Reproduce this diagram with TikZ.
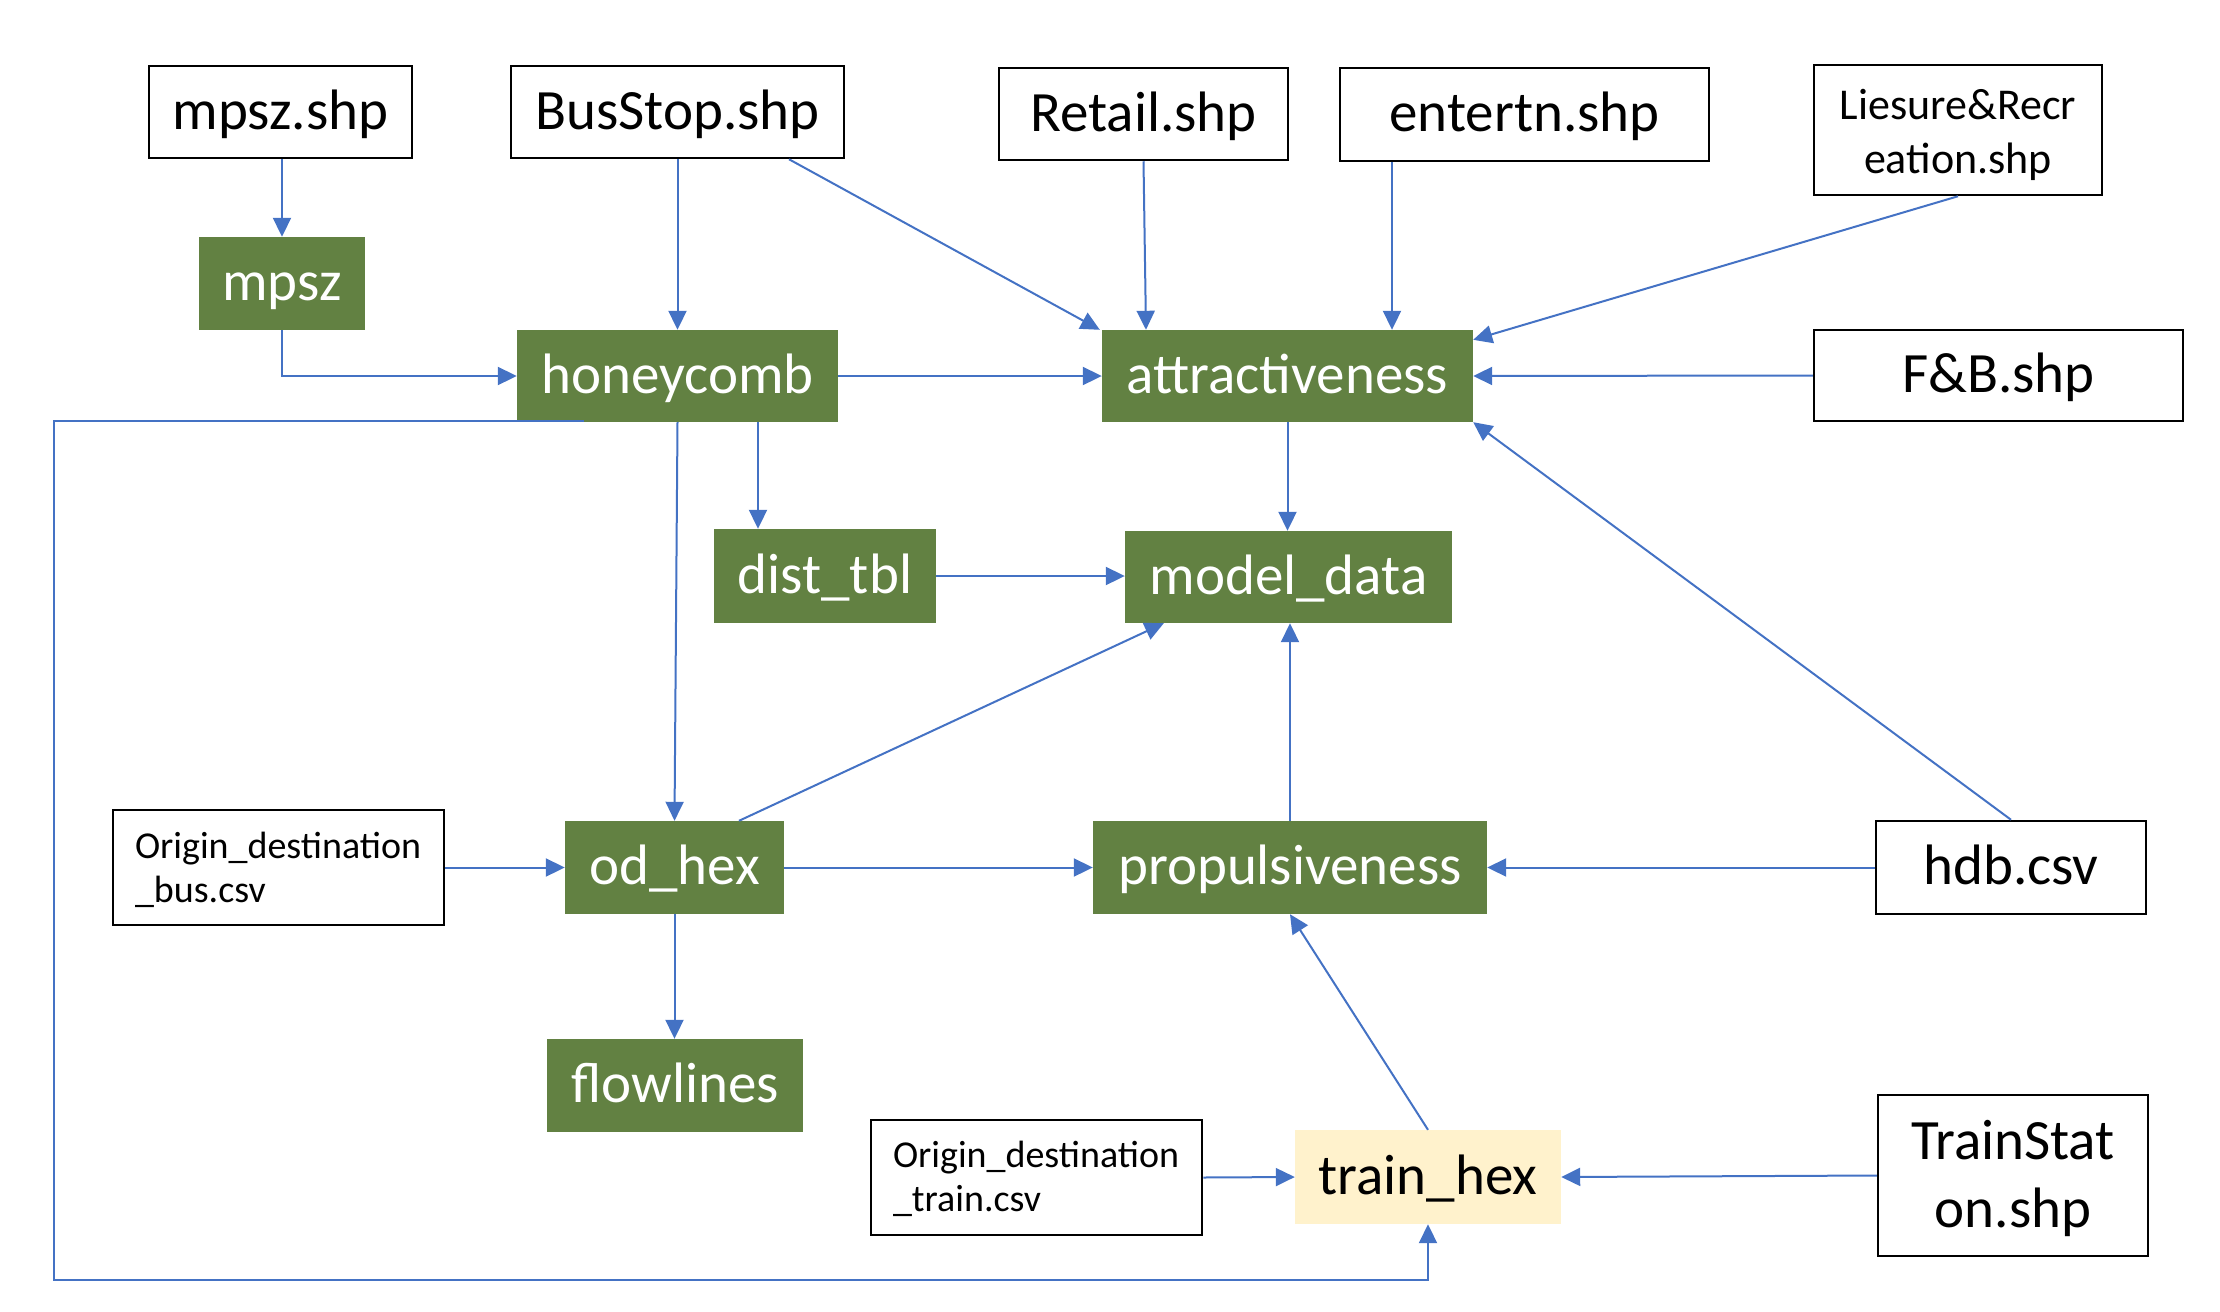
\documentclass[tikz,border=0pt]{standalone}
\usepackage{fontspec}
\setmainfont{Carlito}
\usetikzlibrary{arrows.meta,calc}
\definecolor{gbox}{HTML}{628142}
\definecolor{ybox}{HTML}{FFF2CC}
\definecolor{lnk}{HTML}{4472C4}
\newcommand{\topstrut}[1]{\rule{0pt}{#1}}
\newcommand{\botstrut}[1]{\rule[-#1]{0pt}{#1}}
\tikzset{
  oneline/.style={text height=42pt, text depth=8pt},
  filebox/.style={draw=black, line width=2.5pt, fill=white, inner sep=0pt, align=center,
    font=\fontsize{57}{67}\selectfont},
  greenbox/.style={fill=gbox, text=white, inner sep=0pt, oneline, font=\fontsize{57}{66}\selectfont},
  yellowbox/.style={fill=ybox, text=black, inner sep=0pt, oneline, font=\fontsize{57}{66}\selectfont},
  csvbox/.style={draw=black, line width=2.5pt, fill=white, inner xsep=22pt, inner ysep=0pt,
    align=left, font=\fontsize{38}{44}\selectfont},
  conn/.style={draw=lnk, line width=2pt, -{Triangle[length=19pt,width=18pt]}},
}
\begin{document}
\begin{tikzpicture}[x=1pt,y=-1pt]
\useasboundingbox (0,0) rectangle (2220,1312);
% file boxes
\node[filebox, oneline, minimum width=263pt, minimum height=92pt] (mpszshp) at (280.5,112) {mpsz.shp};
\node[filebox, oneline, minimum width=333pt, minimum height=92pt] (busstop) at (677.5,112) {BusStop.shp};
\node[filebox, oneline, minimum width=289pt, minimum height=92pt] (retail) at (1143.5,114) {Retail.shp};
\node[filebox, oneline, minimum width=369pt, minimum height=93pt] (entertn) at (1524.5,114.5) {entertn.shp};
\node[filebox, minimum width=288pt, minimum height=130pt, font=\fontsize{44}{54}\selectfont] (liesure) at (1958,130)
  {\topstrut{44pt}Liesure\&Recr\\eation.shp\botstrut{12pt}};
\node[filebox, oneline, minimum width=369pt, minimum height=91pt] (fnb) at (1998.5,375.5) {F\&B.shp};
\node[filebox, oneline, minimum width=270pt, minimum height=93pt] (hdb) at (2011,867.5) {hdb.csv};
\node[filebox, minimum width=270pt, minimum height=161pt, font=\fontsize{57}{68}\selectfont] (trainstat) at (2013,1175.5)
  {\topstrut{50pt}TrainStat\\on.shp\botstrut{15pt}};
\node[csvbox, text width=287pt, minimum height=115pt] (busod) at (278.5,867.5)
  {\topstrut{35pt}Origin\_destination\\\_bus.csv\botstrut{10pt}};
\node[csvbox, text width=287pt, minimum height=115pt] (trainod) at (1036.5,1177.5)
  {\topstrut{33pt}Origin\_destination\\\_train.csv\botstrut{10pt}};
% green boxes
\node[greenbox, minimum width=166pt, minimum height=93pt] (mpsz) at (282,283.5) {mpsz};
\node[greenbox, minimum width=321pt, minimum height=92pt] (honeycomb) at (677.5,376) {honeycomb};
\node[greenbox, minimum width=371pt, minimum height=92pt] (attr) at (1287.5,376) {attractiveness};
\node[greenbox, minimum width=222pt, minimum height=94pt] (dist) at (825,576) {dist\_tbl};
\node[greenbox, minimum width=327pt, minimum height=92pt] (model) at (1288.5,577) {model\_data};
\node[greenbox, minimum width=219pt, minimum height=93pt] (odhex) at (674.5,867.5) {od\_hex};
\node[greenbox, minimum width=394pt, minimum height=93pt] (prop) at (1290,867.5) {propulsiveness};
\node[greenbox, minimum width=256pt, minimum height=93pt] (flow) at (675,1085.5) {flowlines};
\node[yellowbox, minimum width=266pt, minimum height=94pt] (trainhex) at (1428,1177) {train\_hex};
% helper coordinates
\coordinate (ex) at (1392,0);
\coordinate (hx) at (758,0);
\coordinate (lp) at (54,1280);
% connectors
\draw[conn] (mpszshp.south -| mpsz.north) -- (mpsz.north);
\draw[conn] (mpsz.south) |- (honeycomb.west);
\draw[conn] (busstop.south) -- (honeycomb.north);
\draw[conn] ([xshift=111.5pt]busstop.south) -- ([xshift=-2pt]attr.north west);
\draw[conn] (retail.south) -- ([xshift=2.5pt]retail.south |- attr.north);
\draw[conn] (entertn.south -| ex) -- (attr.north -| ex);
\draw[conn] (liesure.south) -- ([yshift=-10pt]attr.north east);
\draw[conn] (fnb.west) -- (attr.east);
\draw[conn] (honeycomb.east) -- (attr.west);
\draw[conn] (attr.south) -- (attr.south |- model.north);
\draw[conn] (honeycomb.south) -- (odhex.north);
\draw[conn] (honeycomb.south -| hx) -- (dist.north -| hx);
\draw[conn] (dist.east) -- (dist.east -| model.west);
\draw[conn] ([xshift=64.5pt]odhex.north) -- ([xshift=39pt]model.south west);
\draw[conn] (busod.east) -- (odhex.west);
\draw[conn] (odhex.east) -- (prop.west);
\draw[conn] (odhex.south) -- (odhex.south |- flow.north);
\draw[conn] (prop.north) -- (prop.north |- model.south);
\draw[conn] (hdb.north) -- (attr.south east);
\draw[conn] (hdb.west) -- (prop.east);
\draw[conn] (trainhex.north) -- (prop.south);
\draw[conn] (trainod.east) -- (trainhex.west);
\draw[conn] (trainstat.west) -- (trainhex.east);
\draw[conn] ([xshift=-93.5pt,yshift=1pt]honeycomb.south) -| (lp) -| (trainhex.south);
\end{tikzpicture}
\end{document}
